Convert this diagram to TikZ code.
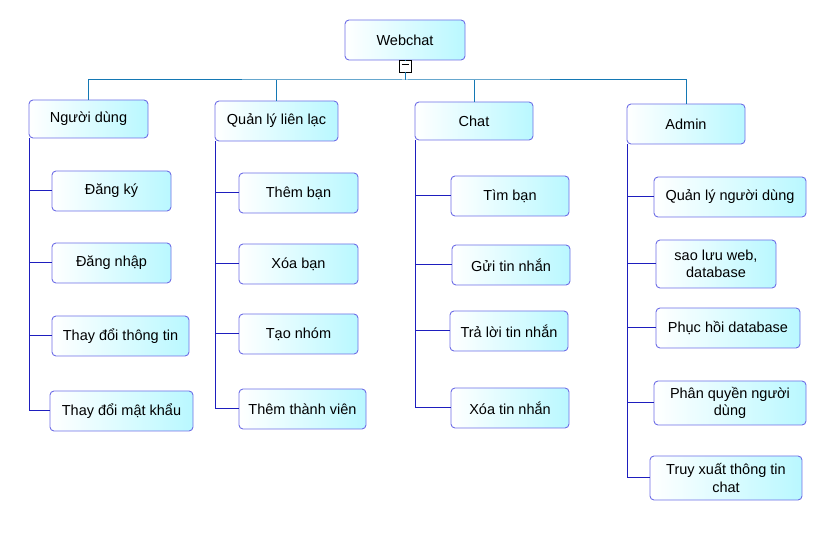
\documentclass[tikz,border=0pt]{standalone}
\usepackage{fontspec}
\setmainfont{Liberation Sans}
\definecolor{boxline}{RGB}{110,110,230}
\definecolor{boxfill}{RGB}{185,248,255}
\definecolor{topline}{RGB}{20,120,180}
\definecolor{subline}{RGB}{30,30,190}
\tikzset{
  box/.style={draw=boxline, line width=0.9pt, rounded corners=4pt, left color=white, right color=boxfill,
    minimum height=40pt, align=center, font=\fontsize{14.5}{17.5}\selectfont, inner sep=2pt},
  topcon/.style={draw=topline, line width=1pt},
  subcon/.style={draw=subline, line width=1pt}
}
\begin{document}
\begin{tikzpicture}[x=1pt, y=-1pt]
\useasboundingbox (0,0) rectangle (833,534);

\node [box, minimum width=120pt] (web) at (405, 40) {Webchat};
\node [draw, line width=0.9pt, fill=white, minimum size=12pt, inner sep=0pt] (minus) at (405, 66) {\rule[2.5pt]{7pt}{1pt}};

\node [box, minimum width=119pt, minimum height=38pt] (user) at (88.5, 119) {Người dùng};
\node [box, minimum width=123pt] (contact) at (276.5, 121) {Quản lý liên lạc};
\node [box, minimum width=118pt, minimum height=38pt] (chat) at (474, 121) {Chat};
\node [box, minimum width=118pt] (admin) at (686, 124) {Admin};

% children of the first group
\node [box, minimum width=119pt] (user1) at (111.5, 191) {Đăng ký};
\node [box, minimum width=119pt] (user2) at (111.5, 263) {Đăng nhập};
\node [box, minimum width=137pt] (user3) at (120.5, 336) {Thay đổi thông tin};
\node [box, minimum width=143pt] (user4) at (121.5, 411) {Thay đổi mật khẩu};

\node [box, minimum width=119pt] (contact1) at (298.5, 193) {Thêm bạn};
\node [box, minimum width=119pt] (contact2) at (298.5, 264) {Xóa bạn};
\node [box, minimum width=119pt] (contact3) at (298.5, 334) {Tạo nhóm};
\node [box, minimum width=127pt] (contact4) at (302.5, 409) {Thêm thành viên};

\node [box, minimum width=118pt] (chat1) at (510, 196) {Tìm bạn};
\node [box, minimum width=118pt] (chat2) at (511, 265) {Gửi tin nhắn};
\node [box, minimum width=118pt] (chat3) at (509, 331) {Trả lời tin nhắn};
\node [box, minimum width=118pt] (chat4) at (510, 408) {Xóa tin nhắn};

\node [box, minimum width=152pt] (admin1) at (730, 197) {Quản lý người dùng};
\node [box, minimum width=120pt, minimum height=48pt] (admin2) at (716, 264) {sao lưu web,\\database};
\node [box, minimum width=144pt] (admin3) at (728, 328) {Phục hồi database};
\node [box, minimum width=152pt, minimum height=44pt] (admin4) at (730, 403) {Phân quyền người\\dùng};
\node [box, minimum width=152pt, minimum height=44pt] (admin5) at (726, 478) {Truy xuất thông tin\\chat};

% top level connectors
\coordinate (bar) at (405, 80);
\draw [topcon] (web.south) -- (minus.north);
\draw [topcon] (minus.south) -- (bar);
\draw [topcon] (user.north) |- (bar) -| (admin.north);
\draw [topcon] (contact.north) -- (contact.north |- bar);
\draw [topcon] (chat.north) -- (chat.north |- bar);

% group connectors
\foreach \g/\n in {user/4, contact/4, chat/4, admin/5} {
  \draw [subcon] ([xshift=1pt]\g.south west) -- ([xshift=1pt]\g.south west |- \g\n.west);
  \foreach \i in {1,...,\n}
    \draw [subcon] (\g\i.west) -- ([xshift=1pt]\g.south west |- \g\i.west);
}
\end{tikzpicture}
\end{document}
